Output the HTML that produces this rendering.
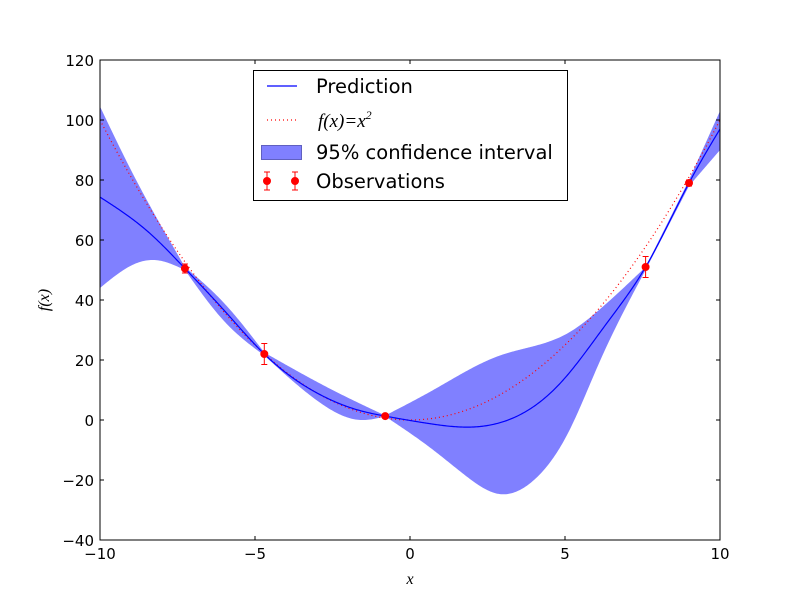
<!DOCTYPE html>
<html><head><meta charset="utf-8"><style>
body{margin:0;background:#fff;}
svg{display:block;font-family:"DejaVu Sans","Liberation Sans",sans-serif;}
</style></head><body>
<svg id="chart" width="800" height="600">
<rect width="800" height="600" fill="#fff"/>
<g id="plot"></g>
<g id="axes"></g>
<g id="legend">
<rect x="253.5" y="70.5" width="314" height="130" fill="#fff" stroke="#000" stroke-width="1"/>
<line x1="267" y1="86" x2="297" y2="86" stroke="#0000ff" stroke-width="1.2"/>
<text x="316" y="93" font-size="19.5">Prediction</text>
<line x1="267" y1="120" x2="297" y2="120" stroke="#ff0000" stroke-width="1.2" stroke-dasharray="1,3"/>
<text x="318" y="127" font-size="19" font-family="Liberation Serif,serif" font-style="italic">f(x)=x<tspan dy="-8" font-size="12">2</tspan></text>
<rect x="261.5" y="145.5" width="40" height="14" fill="#8080ff" stroke="#6060c0"/>
<text x="316" y="159" font-size="19.5">95% confidence interval</text>
<g stroke="#ff0000" stroke-width="1">
<line x1="267" y1="172" x2="267" y2="190"/><line x1="264" y1="172" x2="270" y2="172"/><line x1="264" y1="190" x2="270" y2="190"/>
<line x1="295" y1="172" x2="295" y2="190"/><line x1="292" y1="172" x2="298" y2="172"/><line x1="292" y1="190" x2="298" y2="190"/>
<circle cx="267" cy="181" r="3.5" fill="#ff0000"/><circle cx="295" cy="181" r="3.5" fill="#ff0000"/>
</g>
<text x="316" y="188" font-size="19.5">Observations</text>
</g>
</svg>
<script>
const predX=[-10,-8.4,-7.26,-6,-4.7,-3,-1.6,-0.8,0.5,2.1,3.5,4.85,6.35,7.6,9,10];
const predY=[74.3,62.3,50.5,36.6,22,9,3.1,1.3,-1,-2.3,1.5,12.3,32.3,51,79,97];
const bandX=[-10,-8.95,-7.26,-6,-4.7,-2.5,-0.8,0.75,2.9,5.1,6.1,7.6,9,10];
const bandUpper=[104.5,82.3,51,39,22.5,10,1.5,10,21.5,29,36.7,51,80,103];
const lowerX=[-10,-8.95,-8.2,-7.26,-6,-4.7,-3,-1.6,-0.8,0.75,1.85,2.9,4,5.1,6.1,7.6,9,10];
const bandLower=[44,51.7,53.3,50,33,21.5,6.5,0,1.2,-10,-19,-24.7,-20,-4.3,19,50,78,90];
const obsX=[-7.26,-4.7,-0.8,7.6,9.0];
const obsY=[50.5,22,1.3,51,79];
const obsErr=[1.5,3.5,0.5,3.5,1];
const xTicks=[-10,-5,0,5,10];
const yTicks=[-40,-20,0,20,40,60,80,100,120];

const L=100,R=720,T=60,B=540;
const sx=v=>L+(v+10)/20*(R-L);
const sy=v=>B-(v+40)/160*(B-T);
const NS='http://www.w3.org/2000/svg';
function mk(tag,attrs,parent){const e=document.createElementNS(NS,tag);for(const k in attrs)e.setAttribute(k,attrs[k]);parent.appendChild(e);return e;}
function natural(xs,ys){
  const n=xs.length;
  if(n<2)return [];
  const h=[],M=new Array(n).fill(0);
  for(let i=0;i<n-1;i++)h.push(xs[i+1]-xs[i]);
  const A=[],Bv=[],C=[],D=[];
  for(let i=1;i<n-1;i++){A.push(h[i-1]);Bv.push(2*(h[i-1]+h[i]));C.push(h[i]);D.push(6*((ys[i+1]-ys[i])/h[i]-(ys[i]-ys[i-1])/h[i-1]));}
  const m=Bv.length;
  for(let i=1;i<m;i++){const w=A[i]/Bv[i-1];Bv[i]-=w*C[i-1];D[i]-=w*D[i-1];}
  const sol=new Array(m);
  for(let i=m-1;i>=0;i--){sol[i]=(D[i]-(i<m-1?C[i]*sol[i+1]:0))/Bv[i];}
  for(let i=0;i<m;i++)M[i+1]=sol[i];
  const pts=[];
  for(let i=0;i<n-1;i++){
    const steps=Math.max(4,Math.ceil(h[i]/0.04));
    for(let k=(i===0?0:1);k<=steps;k++){
      const x=xs[i]+h[i]*k/steps,t1=xs[i+1]-x,t0=x-xs[i];
      const y=M[i]*t1*t1*t1/(6*h[i])+M[i+1]*t0*t0*t0/(6*h[i])+(ys[i]/h[i]-M[i]*h[i]/6)*t1+(ys[i+1]/h[i]-M[i+1]*h[i]/6)*t0;
      pts.push([sx(x),sy(y)]);
    }
  }
  return pts;
}
function splinePts(xs,ys,breaks){
  let pts=[],sx0=[],sy0=[];
  for(let i=0;i<xs.length;i++){
    sx0.push(xs[i]);sy0.push(ys[i]);
    if(i>0&&i<xs.length-1&&breaks.some(b=>Math.abs(b-xs[i])<1e-6)){
      pts=pts.concat(natural(sx0,sy0));sx0=[xs[i]];sy0=[ys[i]];
    }
  }
  return pts.concat(natural(sx0,sy0));
}
const toD=p=>p.map((q,i)=>(i?'L':'M')+q[0].toFixed(2)+','+q[1].toFixed(2)).join(' ');
const plot=document.getElementById('plot');
const clip=mk('clipPath',{id:'clip'},plot);mk('rect',{x:L,y:T,width:R-L,height:B-T},clip);
const g=mk('g',{'clip-path':'url(#clip)'},plot);
const upP=splinePts(bandX,bandUpper,obsX);
const loP=splinePts(lowerX,bandLower,obsX).reverse();
const band=mk('path',{d:toD(upP.concat(loP))+' Z',fill:'#8080ff',stroke:'none'},g);


let td='';for(let x=-10;x<=10.001;x+=0.1){td+=(td?' L':'M')+sx(x)+','+sy(x*x);}
const tl=mk('path',{d:td,fill:'none',stroke:'#ff0000','stroke-width':1.2,'stroke-dasharray':'1,3'},g);


const pl=mk('path',{d:toD(splinePts(predX,predY,[])),fill:'none',stroke:'#0000ff','stroke-width':1.2},g);


obsX.forEach((x,i)=>{
  const o=mk('g',{stroke:'#ff0000','stroke-width':1},g);
  
  
  const X=sx(x),y1=sy(obsY[i]+obsErr[i]),y2=sy(obsY[i]-obsErr[i]);
  mk('line',{x1:X,y1:y1,x2:X,y2:y2},o);
  mk('line',{x1:X-3,y1:y1,x2:X+3,y2:y1},o);
  mk('line',{x1:X-3,y1:y2,x2:X+3,y2:y2},o);
  mk('circle',{cx:X,cy:sy(obsY[i]),r:3.5,fill:'#ff0000'},o);
});
const ax=document.getElementById('axes');
const fr=mk('rect',{x:L,y:T,width:R-L,height:B-T,fill:'none',stroke:'#000','stroke-width':1},ax);


xTicks.forEach(v=>{
  const X=sx(v);
  mk('line',{x1:X,y1:B,x2:X,y2:B-4,stroke:'#000'},ax);
  mk('line',{x1:X,y1:T,x2:X,y2:T+4,stroke:'#000'},ax);
  const t=mk('text',{x:X,y:B+19,'font-size':15,'text-anchor':'middle'},ax);
  t.textContent=(v<0?'\u2212'+(-v):v);
  
  
});
yTicks.forEach(v=>{
  const Y=sy(v);
  mk('line',{x1:L,y1:Y,x2:L+4,y2:Y,stroke:'#000'},ax);
  mk('line',{x1:R,y1:Y,x2:R-4,y2:Y,stroke:'#000'},ax);
  const t=mk('text',{x:L-6,y:Y+6,'font-size':15,'text-anchor':'end'},ax);
  t.textContent=(v<0?'\u2212'+(-v):v);
  
  
});
const xl=mk('text',{x:410,y:584,'font-size':16,'font-style':'italic','font-family':'Liberation Serif,serif','text-anchor':'middle'},ax);
xl.textContent='x';


const yl=mk('text',{x:0,y:0,'font-size':16,'font-style':'italic','font-family':'Liberation Serif,serif','text-anchor':'middle',transform:'translate(49,300) rotate(-90)'},ax);
yl.textContent='f(x)';


</script>
</body></html>
